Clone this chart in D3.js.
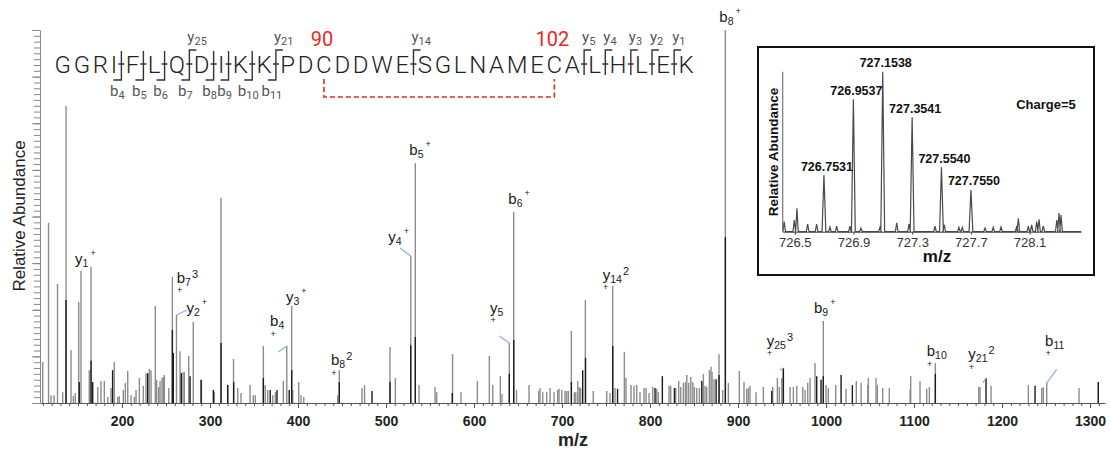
<!DOCTYPE html>
<html>
<head>
<meta charset="utf-8">
<script src="https://cdn.jsdelivr.net/npm/d3@7"></script>
<style>
  body { margin: 0; background: #fff; }
  svg { display: block; font-family: "Liberation Sans", Arial, sans-serif; }
</style>
</head>
<body>
<svg id="chart" width="1111" height="454"></svg>
<script>
// ---- data (m/z, relative intensity %) ----
const grayPeaks = [
  [109.9,11.0],[116.5,48.3],[119.3,2.1],[122.7,2.1],[126.7,31.9],[132.6,2.9],[136.4,79.6],[142.0,14.2],
  [144.7,1.9],[146.9,2.7],[150.8,27.1],[153.4,35.4],[162.8,8.8],[164.8,36.5],[172.4,4.3],[176.1,5.9],
  [179.9,5.9],[183.8,1.6],[187.5,4.0],[191.2,11.0],[195.1,1.6],[196.9,1.9],[201.5,3.5],[203.8,5.4],
  [206.5,8.6],[210.2,2.1],[214.0,1.6],[215.9,3.5],[219.7,6.7],[224.2,4.6],[227.3,8.0],[231.0,9.1],
  [233.0,8.8],[237.8,26.0],[239.4,6.2],[241.7,4.3],[243.2,5.9],[245.5,6.7],[246.9,7.0],[248.1,7.5],
  [253.1,4.0],[257.2,33.8],[261.9,23.6],[265.9,13.9],[269.3,8.3],[270.8,8.3],[275.8,12.6],[281.0,21.7],
  [290.3,6.2],[304.9,2.9],[312.5,55.0],[320.1,4.8],[326.7,11.8],[331.5,4.0],[335.2,2.7],[345.5,4.8],
  [349.2,2.1],[351.5,2.1],[360.6,15.3],[362.8,4.8],[365.6,3.5],[371.3,2.1],[374.2,2.9],[383.3,5.9],
  [387.2,15.3],[392.8,26.0],[394.0,3.5],[400.8,5.6],[403.4,2.1],[406.5,1.6],[445.1,2.1],[446.9,8.8],
  [472.7,4.0],[475.6,4.8],[504.5,15.0],[510.6,6.7],[528.1,39.4],[533.3,64.3],[537.5,4.8],
  [555.7,4.3],[557.6,2.9],[575.6,13.1],[585.2,2.9],[603.8,5.9],[617.4,12.6],[621.3,4.8],[629.9,7.2],
  [631.8,2.4],[640.1,16.1],[645.1,51.2],[648.3,3.5],[662.5,4.8],[673.5,3.2],[675.0,4.0],[678.1,2.9],
  [682.6,2.9],[686.4,4.0],[690.9,2.9],[695.1,3.5],[696.6,3.8],[699.7,3.5],[703.4,3.2],[705.3,3.2],
  [707.2,3.2],[710.6,19.3],[714.0,2.9],[715.6,2.9],[717.9,5.9],[719.6,4.3],[721.2,4.0],[726.5,27.6],
  [735.5,3.2],[750.8,3.2],[754.5,2.7],[757.6,31.4],[760.2,4.0],[770.8,13.7],[772.7,6.7],[778.4,4.8],
  [781.8,4.6],[784.9,4.8],[788.6,2.9],[793.2,4.0],[795.5,4.0],[798.9,2.7],[803.1,4.3],[807.6,3.8],
  [809.5,2.9],[821.6,4.6],[823.5,4.6],[829.2,4.0],[832.6,5.9],[834.9,4.3],[837.9,5.4],[840.2,5.6],
  [841.8,7.5],[844.0,5.4],[846.3,7.0],[848.6,5.6],[850.4,4.3],[853.1,4.0],[856.1,4.0],[860.6,7.8],
  [862.5,4.6],[864.4,4.3],[867.4,8.8],[869.3,9.7],[870.5,8.3],[872.7,6.4],[878.4,13.1],[882.6,3.5],
  [885.6,100],[889.0,5.4],[901.5,8.6],
  [906.8,5.6],[909.9,3.8],[911.7,4.0],[913.6,4.6],[920.5,2.9],[928.8,4.3],[939.4,4.3],[944.7,6.7],
  [946.9,4.3],[949.7,6.7],[951.5,8.8],[959.1,4.3],[962.9,4.3],[966.7,4.6],[973.5,4.3],[976.2,3.5],
  [979.2,5.4],[981.8,6.7],[987.5,10.7],[996.9,22.0],[1000.0,4.8],[1002.6,4.0],[1011.0,4.8],[1022.7,3.8],
  [1034.4,5.9],[1039.8,5.4],[1047.4,4.8],[1048.1,6.7],[1056.8,6.7],[1058.3,4.8],[1064.4,4.0],[1071.9,4.0],
  [1095.5,3.8],[1096.2,7.2],[1106.8,5.9],[1114.4,3.8],[1117.4,4.3],[1124.2,10.7],[1173.5,4.3],[1175.0,4.3],
  [1187.5,4.6],[1229.9,4.8],[1245.1,4.0],[1246.9,4.3],[1250.8,5.4],[1287.5,4.0],[1309.4,5.6]
];

const darkPeaks = [
  [136.4,27.6],[151.4,5.6],[164.8,11.3],[166.7,5.6],[189.3,8.8],[229.2,8.0],[257.2,19.6],[258.3,13.4],
  [267.4,8.0],[277.3,7.2],[289.8,6.2],[303.8,3.5],[312.5,16.1],[320.1,4.8],[326.9,5.6],[360.6,6.7],
  [368.4,3.5],[376.1,3.5],[390.0,3.5],[392.8,8.8],[446.9,5.6],[484.1,3.2],[504.5,5.6],[528.1,15.5],
  [533.3,17.7],[575.3,2.7],[640.1,7.8],[645.1,16.9],[710.6,5.6],[723.5,8.8],[726.7,12.1],[757.6,15.3],
  [763.1,3.8],[805.7,4.0],[814.0,7.2],[827.7,4.0],[858.8,5.9],[875.1,6.4],[878.4,7.5],[885.6,44.5],
  [938.3,3.2],[951.5,9.4],[989.4,7.2],[994.3,6.2],[996.9,7.2],[1017.1,7.5],[1029.9,4.8],[1124.2,7.8],
  [1181.8,6.7],[1237.5,4.6],[1309.4,5.6]
];

const mzTicks = [200, 300, 400, 500, 600, 700, 800, 900, 1000, 1100, 1200, 1300];

// assigned fragment ions: ion letter, number, charge mark, annotated peak
const ionLabels = [
  { key: "y1+",  ion: "y", sub: "1",  sup: "+", mz: 164.8,  inten: 36.5 },
  { key: "b7^3", ion: "b", sub: "7",  sup: "3", below: "+", mz: 257.2, inten: 33.8 },
  { key: "y2+",  ion: "y", sub: "2",  sup: "+", mz: 261.9,  inten: 23.6 },
  { key: "b4",   ion: "b", sub: "4",  below: "+", mz: 387.2, inten: 15.3 },
  { key: "y3+",  ion: "y", sub: "3",  sup: "+", mz: 392.8,  inten: 26.0 },
  { key: "b8^2", ion: "b", sub: "8",  sup: "2", below: "+", mz: 446.9, inten: 8.8 },
  { key: "y4+",  ion: "y", sub: "4",  sup: "+", mz: 528.1,  inten: 39.4 },
  { key: "b5+",  ion: "b", sub: "5",  sup: "+", mz: 533.3,  inten: 64.3 },
  { key: "b6+",  ion: "b", sub: "6",  sup: "+", mz: 645.1,  inten: 51.2 },
  { key: "y5",   ion: "y", sub: "5",  below: "+", mz: 640.1, inten: 16.1 },
  { key: "y14^2",ion: "y", sub: "14", sup: "2", below: "+", mz: 757.6, inten: 31.4 },
  { key: "b8+",  ion: "b", sub: "8",  sup: "+", mz: 885.6,  inten: 100 },
  { key: "y25^3",ion: "y", sub: "25", sup: "3", below: "+", mz: 951.5, inten: 9.4 },
  { key: "b9+",  ion: "b", sub: "9",  sup: "+", mz: 996.9,  inten: 22.0 },
  { key: "b10",  ion: "b", sub: "10", below: "+", mz: 1124.2, inten: 10.7 },
  { key: "y21^2",ion: "y", sub: "21", sup: "2", below: "+", mz: 1181.8, inten: 6.7 },
  { key: "b11",  ion: "b", sub: "11", below: "+", mz: 1250.8, inten: 5.4 }
];

// peptide sequence and observed fragments
const sequence = "GGRIFLQDIKKPDCDDWESGLNAMECALHLEK".split("");
const bIons = [4, 5, 6, 7, 8, 9, 10, 11];
const yIons = [25, 21, 14, 5, 4, 3, 2, 1];
const disulfide = [{ res: 90, idx: 13 }, { res: 102, idx: 25 }];

// inset: isotope cluster, charge 5
const isoPeaks = [
  [726.7531, 35.4], [726.9537, 82.8], [727.1538, 100], [727.3541, 71.5], [727.5540, 40.3], [727.7550, 26.1]
];
const isoNoise = [
  [726.482,6.3],[726.551,7.3],[726.569,14.6],[726.642,4.8],[726.703,4.8],[726.794,2.9],[726.840,3.4],
  [726.930,3.4],[727.005,2.3],[727.135,2.7],[727.249,5.6],[727.333,4.8],[727.510,3.4],[727.573,4.2],
  [727.673,2.7],[727.696,2.7],[727.851,2.3],[727.907,2.7],[727.960,2.9],[728.067,3.6],[728.078,8.4],
  [728.146,3.4],[728.169,4.2],[728.203,6.3],[728.219,7.8],[728.248,3.6],[728.340,7.3],[728.355,11.7],
  [728.369,10.4]
];
const isoTicks = [726.5, 726.9, 727.3, 727.7, 728.1];

// ---- layout ----
const svg = d3.select("#chart");
const x = d3.scaleLinear().domain([106.8, 1317]).range([40, 1105]);
const y = d3.scaleLinear().domain([0, 100]).range([403, 30]);

// label placement relative to the top of its peak
const labelLayout = {
  "y1+":   { dx: -16,   dy: -3 },
  "b7^3":  { dx: 4.4,   dy: 6 },
  "y2+":   { dx: 10,    dy: -2,   leader: [0, 0, 10.5, -5] },
  "b4":    { dx: -16.7, dy: -19.5, leader: [-8.4, 6, 0, 0] },
  "y3+":   { dx: -5.7,  dy: -4.5 },
  "b8^2":  { dx: -8.3,  dy: -5 },
  "y4+":   { dx: -22.4, dy: -14.5, leader: [-10.7, -8, 0, 0] },
  "b5+":   { dx: -6,    dy: -8 },
  "b6+":   { dx: -5.4,  dy: -8 },
  "y5":    { dx: -19.3, dy: -30,  leader: [-10, -7, 0, 0] },
  "y14^2": { dx: -10,   dy: -6 },
  "b8+":   { dx: -6,    dy: -8 },
  "y25^3": { dx: -16.6, dy: -22,  leader: [-3.3, 2.3, 0, 0] },
  "b9+":   { dx: -9.3,  dy: -8 },
  "b10":   { dx: -8.6,  dy: -7 },
  "y21^2": { dx: -17.7, dy: -19,  leader: [-3.3, 5, 0, 0] },
  "b11":   { dx: -1.7,  dy: -37,  leader: [0, 0, 10, -13.4] }
};

// axes
const gx = svg.append("g").attr("transform", "translate(0,403)");
gx.call(d3.axisBottom(x).tickValues(d3.range(110, 1317, 10)).tickSize(3).tickSizeOuter(0).tickFormat(""));
gx.append("g").call(d3.axisBottom(x).tickValues(mzTicks).tickSize(5).tickFormat(d3.format("d")))
  .call(g => g.select(".domain").remove());
gx.selectAll("path,line").attr("stroke", "#555");
gx.selectAll("text").attr("font-size", 14).attr("font-weight", "bold").attr("fill", "#222")
  .attr("font-family", "Liberation Sans, Arial, sans-serif").attr("dy", "1.05em");

const gy = svg.append("g").attr("transform", "translate(40,0)");
gy.call(d3.axisLeft(y).tickValues(d3.range(0, 100.01, 100 / 64)).tickSize(6).tickSizeOuter(0).tickFormat(""));
gy.append("g").call(d3.axisLeft(y).tickValues(d3.range(0, 100.01, 12.5)).tickSize(8).tickFormat(""))
  .call(g => g.select(".domain").remove());
gy.selectAll("path,line").attr("stroke", "#888");

svg.append("text").attr("transform", "translate(25,216) rotate(-90)")
  .attr("text-anchor", "middle").attr("font-size", 17).attr("fill", "#222").text("Relative Abundance");
svg.append("text").attr("x", 573).attr("y", 446).attr("text-anchor", "middle")
  .attr("font-size", 18).attr("font-weight", "bold").attr("fill", "#222").text("m/z");

// peaks
svg.append("g").selectAll("line").data(grayPeaks).join("line")
  .attr("x1", d => x(d[0])).attr("x2", d => x(d[0]))
  .attr("y1", y(0)).attr("y2", d => y(d[1]))
  .attr("stroke", "#8c8c8c").attr("stroke-width", 1.4);
svg.append("g").selectAll("line").data(darkPeaks).join("line")
  .attr("x1", d => x(d[0])).attr("x2", d => x(d[0]))
  .attr("y1", y(0)).attr("y2", d => y(d[1]))
  .attr("stroke", "#1c1c1c").attr("stroke-width", 1.4);

// ion labels
const lab = svg.append("g").attr("fill", "#1a1a1a");
ionLabels.forEach(d => {
  const L = labelLayout[d.key];
  const px = x(d.mz), py = y(d.inten);
  if (L.leader) {
    lab.append("line")
      .attr("x1", px + L.leader[0]).attr("y1", py + L.leader[1])
      .attr("x2", px + L.leader[2]).attr("y2", py + L.leader[3])
      .attr("stroke", "#8eaee0").attr("stroke-width", 1.2);
  }
  const tx = px + L.dx, ty = py + L.dy;
  const t = lab.append("text").attr("x", tx).attr("y", ty).attr("font-size", 15);
  t.append("tspan").text(d.ion);
  t.append("tspan").attr("font-size", 10.5).attr("dy", 3).text(d.sub);
  if (d.sup === "+") t.append("tspan").attr("font-size", 9).attr("dx", 2).attr("dy", -11).text("+");
  else if (d.sup) t.append("tspan").attr("font-size", 11).attr("dx", 1).attr("dy", -8).text(d.sup);
  if (d.below) {
    lab.append("text").attr("x", tx + 3).attr("y", ty + 10.5).attr("text-anchor", "middle")
      .attr("font-size", 9).text(d.below);
  }
});

// ---- sequence with fragmentation map ----
const n = sequence.length;
const cutB = new Set(bIons.map(k => k - 1));
const cutY = new Set(yIons.map(k => n - k - 1));
const cuts = d3.range(n - 1).filter(i => cutB.has(i) || cutY.has(i));
const cutSet = new Set(cuts);
const seqFont = "Roboto, 'Noto Sans', sans-serif";

const seq = svg.append("g");
const letters = seq.selectAll("text.res").data(sequence).join("text").attr("class", "res")
  .attr("y", 73).attr("text-anchor", "middle")
  .attr("font-family", seqFont).attr("font-weight", 300)
  .attr("font-size", 24).attr("fill", "#222").text(d => d);

// proportional layout: glyph advance + tracking, wider gap where a cleavage is marked
const adv = letters.nodes().map(el => el.getComputedTextLength());
const track = 2.7, cutGap = 5.8;
const raw = [];
let cur = 0;
sequence.forEach((d, i) => {
  raw.push(cur + adv[i] / 2);
  cur += adv[i] + track + (cutSet.has(i) ? cutGap : 0);
});
const seqX = d3.scaleLinear().domain([raw[0], raw[n - 1]]).range([62.7, 686]);
const pos = i => seqX(raw[i]);
letters.attr("x", (d, i) => pos(i));

cuts.forEach(i => {
  const isB = cutB.has(i), isY = cutY.has(i);
  const vx = seqX((raw[i] + adv[i] / 2 + raw[i + 1] - adv[i + 1] / 2) / 2);
  let p = "";
  if (isB && isY) p = `M${vx - 8},80H${vx}V50H${vx + 7}`;
  else if (isB) p = `M${vx - 8},80H${vx}V51`;
  else p = `M${vx},75V50H${vx + 7}`;
  p += `M${vx - 3},64H${vx + 3}`;
  seq.append("path").attr("d", p).attr("fill", "none").attr("stroke", "#333").attr("stroke-width", 1.4);
  if (isB) {
    const t = seq.append("text").attr("x", vx - 4).attr("y", 96).attr("text-anchor", "middle")
      .attr("font-family", seqFont).attr("font-size", 15).attr("fill", "#555");
    t.append("tspan").text("b");
    t.append("tspan").attr("font-size", 11).attr("dy", 3).text(i + 1);
  }
  if (isY) {
    const t = seq.append("text").attr("x", vx - 2).attr("y", 42)
      .attr("font-family", seqFont).attr("font-size", 15).attr("fill", "#555");
    t.append("tspan").text("y");
    t.append("tspan").attr("font-size", 11).attr("dy", 3).text(n - i - 1);
  }
});

// disulfide bond
const red = "#e8281e";
seq.selectAll(".ss").data(disulfide).join("text")
  .attr("x", d => pos(d.idx) - 2).attr("y", 46).attr("text-anchor", "middle")
  .attr("font-family", seqFont).attr("font-size", 20).attr("fill", red)
  .text(d => d.res);
const c1 = pos(disulfide[0].idx), c2 = pos(disulfide[1].idx);
seq.append("path").attr("d", `M${c1},79V97H${c2}V79`).attr("fill", "none")
  .attr("stroke", red).attr("stroke-width", 1.6).attr("stroke-dasharray", "5,3");

// ---- inset ----
const inset = svg.append("g");
inset.append("rect").attr("x", 758).attr("y", 47).attr("width", 336).attr("height", 228)
  .attr("fill", "#fff").attr("stroke", "#111").attr("stroke-width", 2);

const ix = d3.scaleLinear().domain([726.472, 728.505]).range([782.7, 1081]);
const iy = d3.scaleLinear().domain([0, 100]).range([231.7, 71.7]);

const profile = [];
isoPeaks.map(d => [d[0], d[1], 0.013]).concat(isoNoise.map(d => [d[0], d[1], 0.009]))
  .sort((a, b) => a[0] - b[0])
  .forEach(d => { profile.push([d[0] - d[2], 0], [d[0], d[1]], [d[0] + d[2], 0]); });
inset.append("path")
  .attr("d", d3.line().x(d => ix(d[0])).y(d => iy(d[1]))([[726.472, 0]].concat(profile, [[728.505, 0]])))
  .attr("fill", "none").attr("stroke", "#4a4a4a").attr("stroke-width", 1.2);

const igx = inset.append("g").attr("transform", "translate(0,231.7)")
  .call(d3.axisBottom(ix).tickValues(isoTicks).tickSize(3).tickSizeOuter(0).tickFormat(d3.format(".1f")));
igx.selectAll("path,line").attr("stroke", "#444");
igx.selectAll("line").attr("transform", "translate(8,0)");
igx.selectAll("text").attr("dx", 8).attr("font-size", 13).attr("fill", "#333")
  .attr("font-family", "Liberation Sans, Arial, sans-serif");
inset.append("line").attr("x1", ix.range()[0]).attr("x2", ix.range()[0])
  .attr("y1", iy(0)).attr("y2", iy(100)).attr("stroke", "#777").attr("stroke-width", 1.2);

inset.selectAll(".iso").data(isoPeaks).join("text")
  .attr("x", d => ix(d[0]) + 3).attr("y", d => iy(d[1]) - 4.5).attr("text-anchor", "middle")
  .attr("font-size", 12.5).attr("font-weight", "bold").attr("fill", "#111")
  .text(d => d[0].toFixed(4));

inset.append("text").attr("x", 1046).attr("y", 109).attr("text-anchor", "middle")
  .attr("font-size", 13).attr("font-weight", "bold").attr("fill", "#111").text("Charge=5");
inset.append("text").attr("transform", "translate(778,152) rotate(-90)").attr("text-anchor", "middle")
  .attr("font-size", 13.5).attr("font-weight", "bold").attr("fill", "#111").text("Relative Abundance");
inset.append("text").attr("x", 937).attr("y", 262).attr("text-anchor", "middle")
  .attr("font-size", 17).attr("font-weight", "bold").attr("fill", "#111").text("m/z");
</script>
</body>
</html>
